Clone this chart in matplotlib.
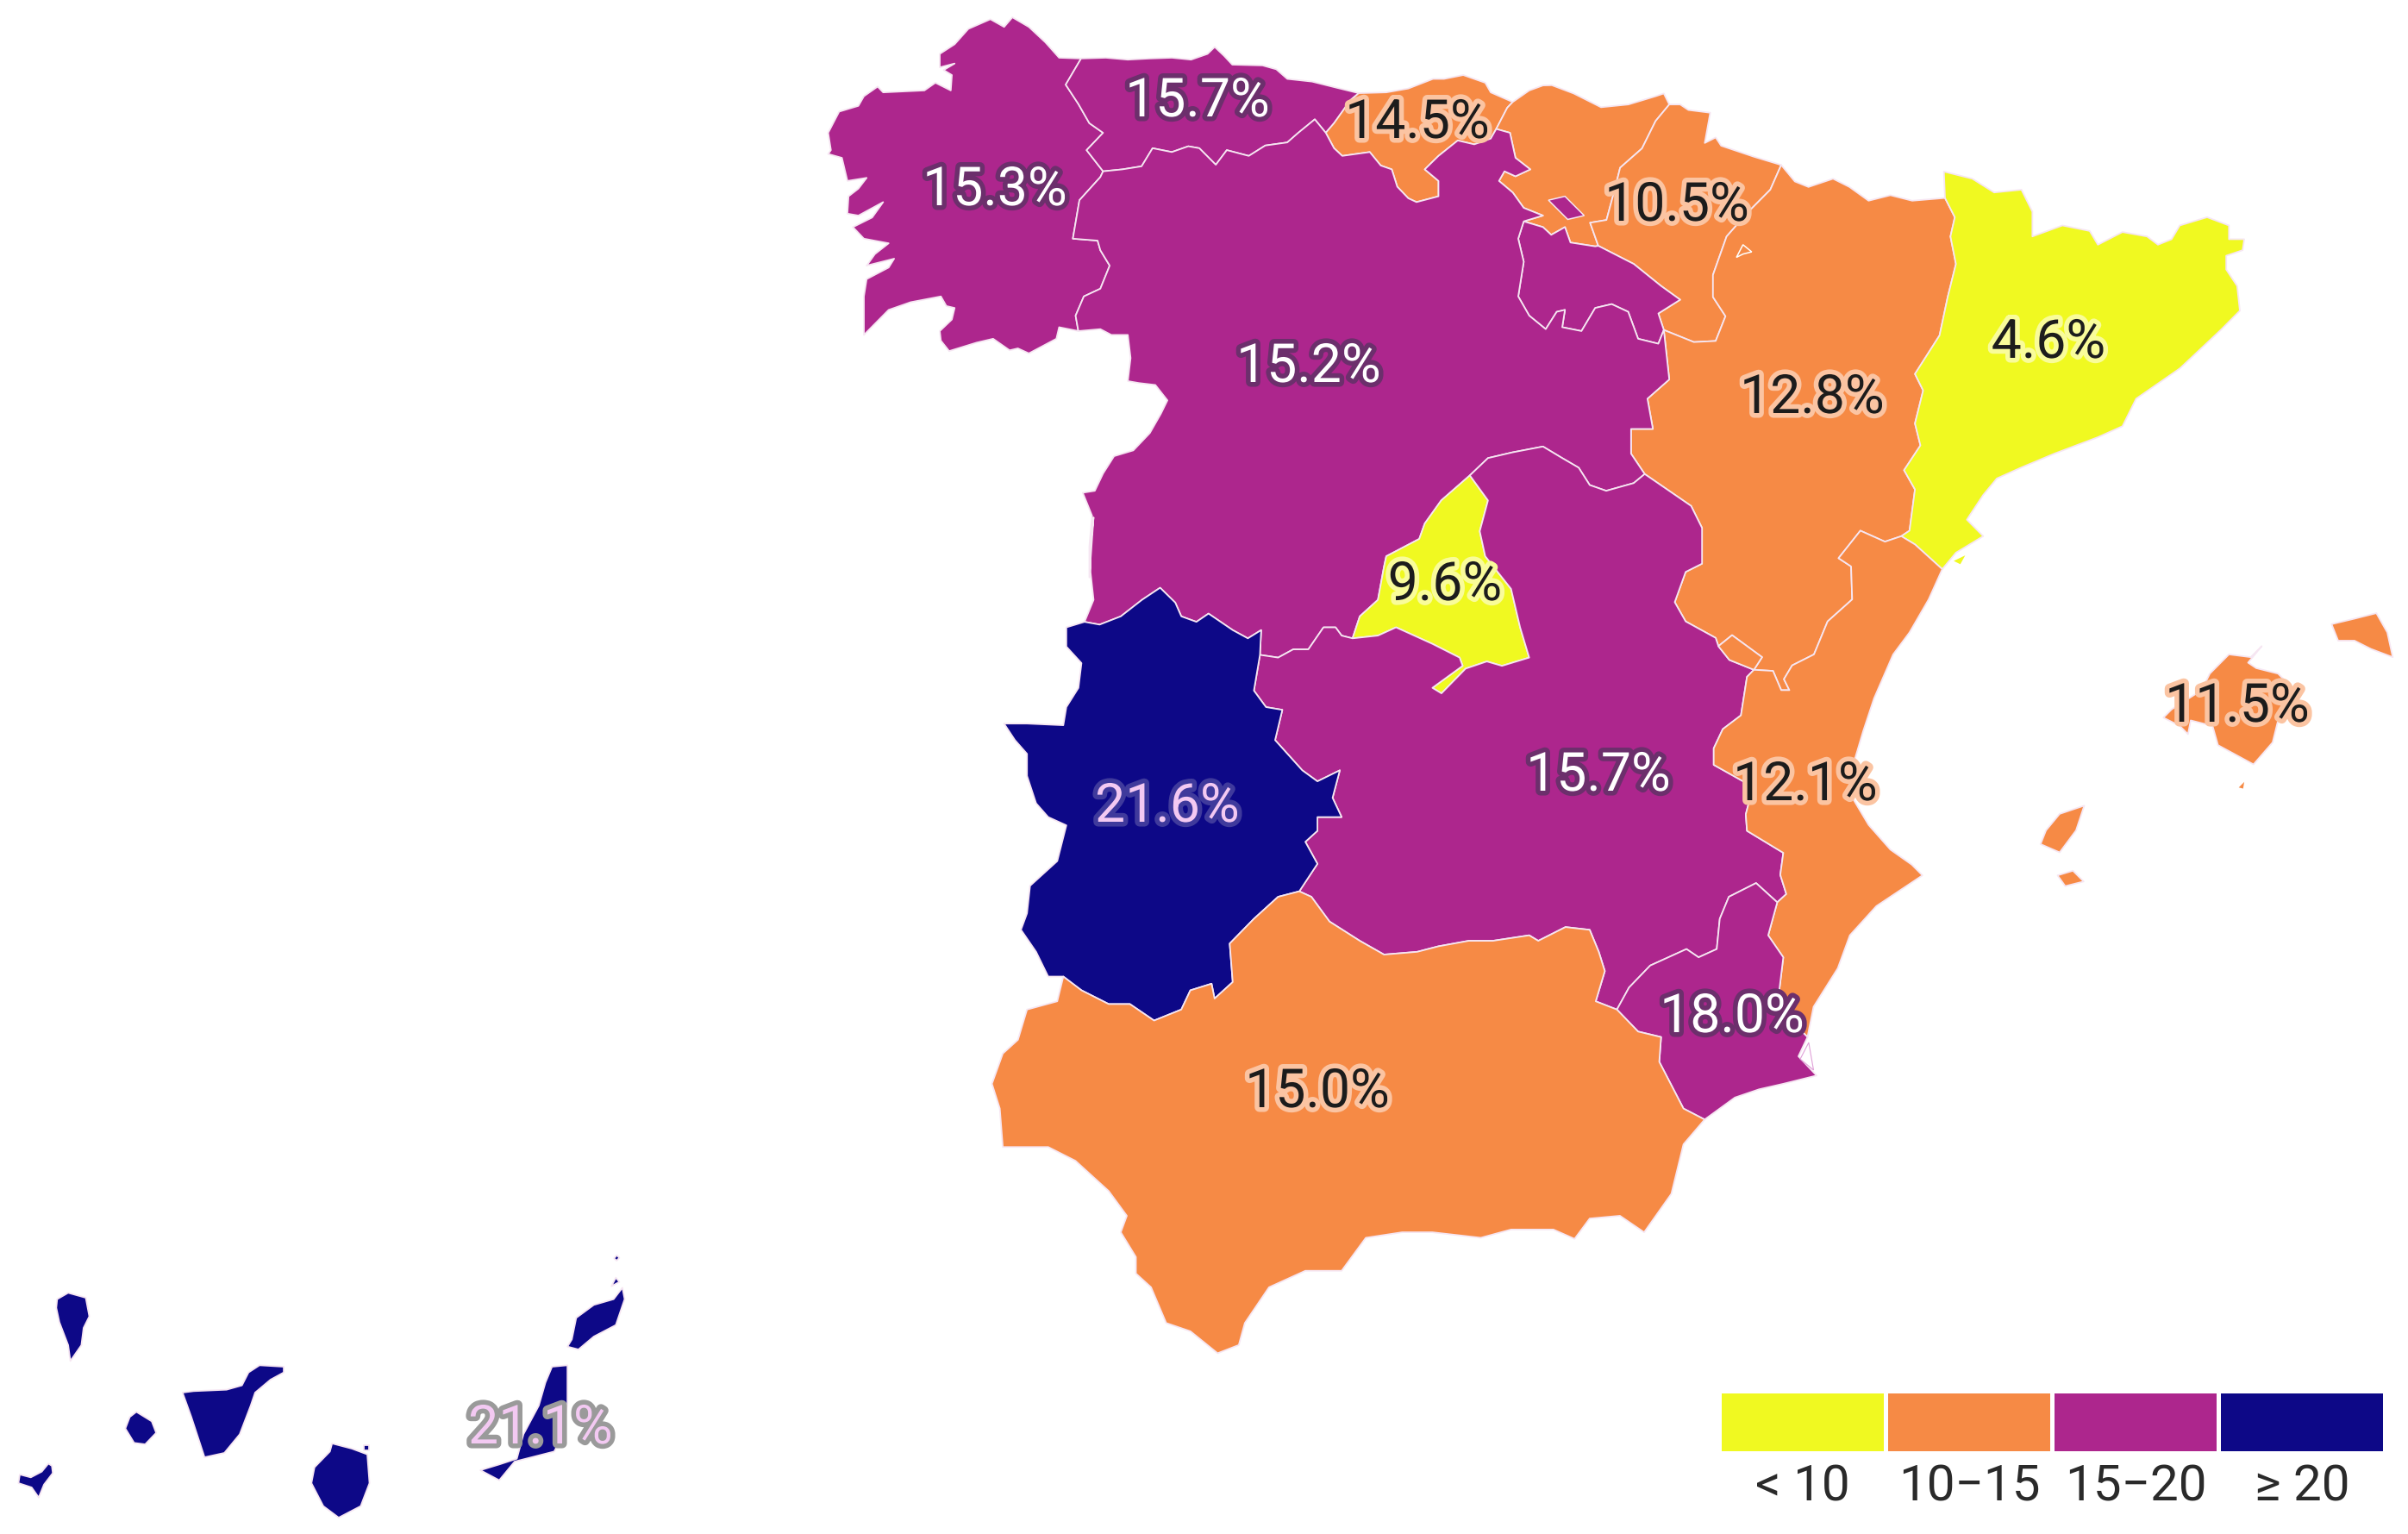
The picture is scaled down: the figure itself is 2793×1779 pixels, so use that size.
import numpy as np
import matplotlib
matplotlib.use('Agg')
import matplotlib.pyplot as plt
import matplotlib.patheffects as pe
from matplotlib.patches import Polygon

# unemployment rate per region, label anchor in picture pixels
regions = ['Galicia', 'Asturias', 'Cantabria', 'Pais Vasco', 'Navarra', 'La Rioja', 'Aragon', 'Cataluna',
           'Castilla y Leon', 'Madrid', 'Castilla-La Mancha', 'Valencia', 'Baleares', 'Extremadura',
           'Murcia', 'Andalucia', 'Canarias']
rates = [15.3, 15.7, 14.5, 10.5, 10.5, 15.7, 12.8, 4.6, 15.2, 9.6, 15.7, 12.1, 11.5, 21.6, 18.0, 15.0, 21.1]
labelled = ['Galicia', 'Asturias', 'Cantabria', 'Pais Vasco', 'Aragon', 'Cataluna', 'Castilla y Leon', 'Madrid',
            'Castilla-La Mancha', 'Valencia', 'Baleares', 'Extremadura', 'Murcia', 'Andalucia', 'Canarias']
label_x = [1154, 1389, 1644, 1945, 2102, 2376, 1518, 1676, 1854, 2094, 2595, 1354, 2009, 1528, 627]
label_y = [221, 118, 143, 239, 462, 398, 426, 679, 900, 911, 820, 936, 1180, 1267, 1657]

legend_labels = ['< 10', '10\u221215', '15\u221220', '\u2265 20']
legend_colors = ['#f0f921', '#f68a45', '#ad268d', '#0d0887']
bins = [10, 15, 20]


def A(p):
    return [(900 + x / 1.568, y / 2.24) for x, y in p]

def B(p):
    return [(1800 + x / 1.579, y / 1.568) for x, y in p]

def C(p):
    return [(1100 + x / 1.425, 600 + y / 1.568) for x, y in p]

def D(p):
    return [(x / 1.96, 1400 + y / 3.0) for x, y in p]

def O(p):
    return [(x * 1.781, y * 1.781) for x, y in p]


# shared borders
gal_ast = A([(555,152),(527,220),(550,270),(570,320),(595,345),(565,390),(595,445)])
gal_cyl = A([(595,445),(590,460),(552,520),(540,620),(585,625),(590,650),(607,690),(590,750),(560,770),(545,820),(550,860)])
ast_cyl = A([(595,445),(630,440),(665,432),(685,385),(720,395),(750,380),(770,385),(800,428),(820,390),(860,405),(890,378),(930,370),(950,345),(980,310),(1000,345)])
ast_can = A([(1000,345),(1015,320),(1030,290),(1045,260),(1060,242)])
can_cyl = A([(1000,345),(1015,385),(1030,405),(1080,395),(1100,430),(1120,440),(1130,485),(1150,515),(1165,525),(1205,510),(1205,470),(1180,440),(1205,405),(1240,365),(1270,375),(1300,360),(1310,335)])
can_bas = A([(1310,335),(1330,280),(1340,265)])
bas_cyl = A([(1310,335),(1335,345),(1345,410),(1372,440),(1345,458),(1325,445),(1315,470),(1340,500),(1360,540),(1395,560),(1360,575)])
rio_bas = A([(1360,575),(1395,590),(1410,610),(1435,590),(1445,630),(1490,640)]) + B([(85,447)])
rio_nav = B([(85,447),(150,480),(200,520),(235,545),(195,570),(205,600)])
nav_bas = B([(215,190),(190,220),(165,270),(125,305),(115,345),(100,400),(70,405),(85,447)])
nav_ara = B([(205,600),(260,622),(300,620),(318,575),(295,540),(295,500),(320,430),(360,385),(400,345),(420,300)])
rio_cyl = A([(1360,575),(1350,620),(1360,680),(1350,770),(1370,820),(1400,855),(1420,810),(1435,805),(1430,850),(1465,860),(1490,800),(1520,790),(1550,810),(1568,880)]) + B([(195,625),(205,600)])
cyl_ara = B([(205,600),(215,690),(175,725),(185,780),(145,780),(145,825),(170,862)])
ara_clm = B([(170,862),(255,920),(275,960),(275,1025),(245,1040),(225,1095),(245,1130),(300,1160),(305,1175)])
rincon_ara = B([(305,1175),(330,1155),(385,1195),(370,1218)])
rincon_clm = B([(305,1175),(325,1200),(370,1218)])
ara_val = B([(370,1218),(405,1220),(420,1255),(435,1255),(425,1235),(440,1210),(480,1190),(505,1130),(550,1090),(548,1030),(525,1015),(565,965),(610,985),(640,975),(665,990),(715,1035)])
ara_cat = B([(640,975),(655,965),(665,890),(645,855),(675,810),(665,770),(680,710),(665,680),(710,610),(725,540),(740,480),(730,430),(738,395),(720,360)])
clm_val = C([(1370,700),(1385,685),(1375,650),(1380,610),(1320,570),(1318,540),(1330,490),(1265,450),(1265,420),(1280,385),(1310,360),(1320,290)]) + B([(370,1218)])
val_mur = C([(1420,945),(1370,890),(1380,800),(1355,760),(1370,700)])
clm_mur = C([(1370,700),(1335,665),(1290,690),(1275,730),(1270,785),(1240,800),(1220,785),(1160,815),(1125,855),(1105,895)])
clm_and = C([(1105,895),(1070,880),(1085,825),(1075,790),(1060,750),(1020,745),(975,770),(960,760),(900,770),(860,770),(810,780),(775,790),(720,795),(680,770),(630,735),(600,690),(580,680)])
clm_ext = C([(580,680),(610,630),(590,590),(610,570),(610,545),(650,545),(635,510),(647,460),(610,480),(585,460),(540,405),(552,350),(525,345),(505,315),(515,250)])
cyl_ext = C([(225,190),(250,195),(285,180),(320,150),(350,128),(375,155),(385,180),(410,190),(430,175),(470,205),(495,220),(517,205),(515,250)])
cyl_clm_w = C([(515,250),(545,255),(570,240),(595,240),(620,200),(640,200),(650,215),(668,220)])
cyl_mad = C([(668,220),(680,180),(710,150),(720,90)]) + A([(1110,1445),(1170,1400),(1180,1360),(1210,1300),(1262,1235)])
mad_clm = C([(668,220),(710,215),(740,200),(800,230),(845,255),(850,270),(800,310),(815,320),(855,275),(890,262),(915,270),(960,255),(945,200),(930,130)]) + A([(1290,1445),(1280,1380),(1295,1300),(1262,1235)])
cyl_clm_n = A([(1262,1235),(1295,1190),(1340,1175),(1395,1160),(1430,1190),(1460,1215),(1480,1260),(1510,1275),(1560,1255)]) + B([(170,862)])
and_ext = C([(190,835),(220,860),(265,885),(300,885),(340,915),(385,895),(400,860),(435,848),(440,875),(470,845),(465,775),(505,730),(545,690),(580,680)])
and_mur = C([(1250,1095),(1215,1075),(1175,990),(1178,945),(1140,935),(1105,895)])

# coasts and the Portuguese / French edge
gal_coast = A([(515,150),(490,110),(460,70),(430,45),(415,70),(390,50),(350,75),(325,115),(298,140),(298,175),(325,165),(305,182),(320,195),(318,235),(290,215),(270,235),(195,240),(185,225),(160,250),(150,275),(115,290),(95,345),(100,390),(95,400),(120,410),(130,470),(165,462),(150,490),(132,510),(130,555),(150,560),(195,525),(175,565),(140,590),(160,620),(205,632),(180,660),(165,690),(215,672),(205,695),(165,725),(160,770),(160,870),(205,805),(245,785),(300,770),(310,795),(325,800),(320,830),(298,860),(300,885),(315,912),(365,890),(395,880),(425,910),(440,905),(460,918),(510,880),(515,850)])
ast_coast = A([(600,150),(640,155),(680,152),(720,150),(755,155),(785,140),(798,122),(815,145),(830,168),(885,170),(910,180),(930,205),(975,212),(1020,228)])
can_coast = A([(1110,240),(1150,230),(1195,205),(1215,205),(1250,195),(1290,215),(1300,240)])
bas_coast = A([(1370,235),(1395,222)]) + B([(0,155),(40,170),(90,195),(140,190),(190,175),(205,170)])
nav_north = B([(420,300),(370,285),(310,265),(300,250),(280,260),(290,205),(250,200),(235,190),(215,190)])
ara_north = B([(445,330),(470,340),(515,325),(545,340),(580,365),(620,355),(660,365)])
cat_outer = B([(718,312),(770,325),(810,350),(860,345),(880,385),(880,430),(935,410),(985,420),(1000,445),(1045,422),(1090,430),(1110,445),(1135,435),(1150,410),(1200,395),(1240,410),(1240,435),(1268,435),(1265,455),(1235,465),(1235,490),(1255,520),(1260,565),(1225,600),(1150,670),(1070,725),(1045,775),(1000,795),(920,825),(860,850),(815,870),(790,900),(760,945),(790,975),(740,1005)])
val_coast = B([(690,1090),(655,1150),(625,1190),(590,1270),(570,1330),(555,1380),(550,1450),(580,1500),(620,1545)]) + O([(1245,563),(1252,570),(1222,590)]) + C([(1490,760),(1470,820),(1430,890)])
mur_coast = C([(1405,980),(1435,1015),(1380,1030),(1340,1040),(1300,1055)])
and_coast = C([(1215,1140),(1195,1230),(1150,1300),(1110,1270),(1060,1275),(1035,1312),(1000,1295),(930,1295),(880,1310),(800,1300),(750,1300),(690,1310),(650,1370),(590,1370),(530,1400),(490,1465),(480,1505),(445,1520),(400,1480),(360,1465),(335,1400),(310,1375),(310,1345),(285,1300),(295,1270),(265,1225),(210,1170),(165,1145),(90,1145),(85,1075),(72,1030),(90,975),(115,950),(130,895),(180,880)])
ext_west = C([(195,200),(195,235),(220,265),(215,310),(195,345),(190,378),(130,375),(92,375),(110,405),(130,430),(130,470),(145,520),(165,545),(195,560),(180,625),(135,670),(130,720),(120,750),(145,790),(165,835)])
cyl_west = A([(590,855),(610,870),(640,870),(645,930),(640,990),(660,995),(690,1000),(712,1040),(700,1075),(680,1125),(650,1170),(615,1185),(595,1230),(580,1275),(558,1280),(575,1340),(570,1420),(570,1500)]) + C([(240,0),(235,50),(235,100),(240,150)])

# islands and enclaves
trevino = A([(1405,520),(1435,510),(1470,560),(1440,570)])
rincon = rincon_ara + rincon_clm[::-1][1:-1]
petilla = B([(338,468),(350,445),(366,458),(350,462)])
mallorca = B([(1300,1175),(1280,1195),(1240,1190),(1205,1225),(1190,1255),(1135,1290),(1120,1305),(1150,1320),(1165,1335),(1170,1310),(1210,1320),(1220,1355),(1285,1390),(1320,1350),(1335,1290),(1360,1255),(1330,1225),(1290,1215),(1275,1205)])
menorca = B([(1428,1135),(1470,1125),(1510,1115),(1530,1150),(1540,1195),(1500,1180),(1470,1165),(1440,1165)])
ibiza = B([(975,1465),(930,1480),(905,1510),(895,1535),(930,1550),(960,1510)])
formentera = O([(1340,570),(1350,567),(1357,574),(1345,577)])
ebro = B([(736,1020),(757,1010),(748,1026)])
cabrera = B([(1258,1432),(1268,1422),(1266,1434)])
mar_menor = C([(1422,955),(1408,985),(1430,1005)])
la_palma = D([(155,298),(130,320),(128,350),(135,400),(155,480),(160,535),(185,480),(190,420),(203,380),(195,315)])
el_hierro = D([(110,892),(95,920),(70,940),(45,930),(42,960),(72,975),(88,1010),(100,965),(120,925),(118,900)])
la_gomera = D([(310,712),(295,730),(285,770),(305,820),(330,825),(355,785),(345,745)])
tenerife = D([(645,555),(590,550),(565,575),(550,620),(515,635),(440,640),(415,645),(435,730),(465,870),(510,855),(545,790),(570,690),(580,645),(615,600),(645,575)])
gran_canaria = D([(755,822),(750,850),(715,905),(708,960),(735,1040),(770,1080),(820,1040),(840,960),(835,860),(800,840)])
gc_rock = D([(828,828),(838,828),(838,845),(828,845)])
fuerteventura = D([(1290,550),(1255,555),(1240,610),(1225,690),(1190,790),(1175,875),(1135,895),(1092,915),(1135,950),(1170,885),(1260,850),(1280,790),(1290,680)])
lanzarote = D([(1415,280),(1395,320),(1350,340),(1310,385),(1300,460),(1290,485),(1315,495),(1350,450),(1400,410),(1420,320)])
graciosa = D([(1400,245),(1390,275),(1408,260)])
alegranza = D([(1402,167),(1396,178),(1402,186),(1408,176)])

outlines = {
    'Galicia': [gal_coast + gal_cyl[::-1] + gal_ast[::-1]],
    'Asturias': [gal_ast[:1] + ast_coast + ast_can[::-1] + ast_cyl[::-1] + gal_ast[::-1][:-1]],
    'Cantabria': [ast_can + can_coast + can_bas[::-1] + can_cyl[::-1]],
    'Pais Vasco': [can_bas + bas_coast + nav_bas + rio_bas[::-1] + bas_cyl[::-1]],
    'Navarra': [nav_bas + rio_nav + nav_ara + nav_north],
    'La Rioja': [rio_cyl + rio_nav[::-1] + rio_bas[::-1]],
    'Aragon': [nav_ara + ara_north + ara_cat[::-1] + ara_val[::-1] + rincon_ara[::-1] + ara_clm[::-1] + cyl_ara[::-1]],
    'Cataluna': [cat_outer + ara_val[-1:] + ara_val[-2:-3:-1] + ara_cat],
    'Castilla y Leon': [ast_cyl + can_cyl[1:] + bas_cyl[1:] + rio_cyl[1:] + cyl_ara[1:] + cyl_clm_n[::-1] + cyl_mad[::-1] + cyl_clm_w[::-1] + cyl_ext[::-1] + cyl_west[::-1] + gal_cyl[::-1]],
    'Madrid': [cyl_mad + mad_clm[::-1]],
    'Castilla-La Mancha': [cyl_clm_n + ara_clm[1:] + rincon_clm[1:] + clm_val[::-1] + clm_mur + clm_and + clm_ext + cyl_clm_w + mad_clm],
    'Valencia': [ara_val + val_coast + val_mur + clm_val, rincon],
    'Baleares': [mallorca, menorca, ibiza, formentera],
    'Extremadura': [cyl_ext[:1] + ext_west + and_ext + clm_ext + cyl_ext[::-1]],
    'Murcia': [and_mur + clm_mur[::-1] + val_mur[::-1] + mur_coast],
    'Andalucia': [and_ext + clm_and[::-1] + and_mur[::-1] + and_coast],
    'Canarias': [la_palma, el_hierro, la_gomera, tenerife, gran_canaria, gc_rock, fuerteventura, lanzarote, graciosa, alegranza],
}

fig = plt.figure(figsize=(27.93, 17.79), dpi=100)
ax = fig.add_axes([0, 0, 1, 1])
ax.set_xlim(0, 2793)
ax.set_ylim(1779, 0)
ax.axis('off')

color_of = {}
for name, rate in zip(regions, rates):
    color = legend_colors[np.digitize(rate, bins, right=True)]
    color_of[name] = color
    for poly in outlines[name]:
        ax.add_patch(Polygon(poly, closed=True, facecolor=color, edgecolor='#f6e6f2', linewidth=1.3, joinstyle='round'))

# bits sitting on top of their neighbours
ax.add_patch(Polygon(trevino, facecolor=color_of['Castilla y Leon'], edgecolor='#f6e6f2', linewidth=1.1))
ax.add_patch(Polygon(petilla, facecolor=color_of['Navarra'], edgecolor='white', linewidth=1.1))
ax.add_patch(Polygon(ebro, facecolor=color_of['Cataluna'], edgecolor='none'))
ax.add_patch(Polygon(cabrera, facecolor=color_of['Baleares'], edgecolor='none'))
ax.add_patch(Polygon(mar_menor, facecolor='white', edgecolor='#e0a0d8', linewidth=0.8))

text_style = {
    '#f0f921': ('#1c1c1c', '#f9fc9a'),
    '#f68a45': ('#1c1c1c', '#fbc4a2'),
    '#ad268d': ('white', '#6c2f6c'),
    '#0d0887': ('#f3c9f2', '#3f3a9c'),
}

for name, x, y in zip(labelled, label_x, label_y):
    rate = rates[regions.index(name)]
    fg, halo = text_style[color_of[name]]
    if name == 'Canarias':
        halo = '#9a9a9a'
    ax.text(x, y, f'{rate:.1f}%', family='Roboto', fontsize=45, color=fg, ha='center', va='center',
            path_effects=[pe.withStroke(linewidth=8, foreground=halo)], zorder=5)

# legend
lx0, lw, lgap = 1997, 188, 5
centers = [lx0 + lw / 2 + i * (lw + lgap) for i in range(len(legend_labels))]
ax.bar(centers, [67] * len(centers), width=lw, bottom=1616, color=legend_colors, linewidth=0)
for c, txt in zip(centers, legend_labels):
    ax.text(c, 1725, txt, family='Roboto', fontsize=42, color='#2a2a2a', ha='center', va='center')
ax.set_xlim(0, 2793)
ax.set_ylim(1779, 0)

plt.savefig('out.png', dpi=100, facecolor='white')
